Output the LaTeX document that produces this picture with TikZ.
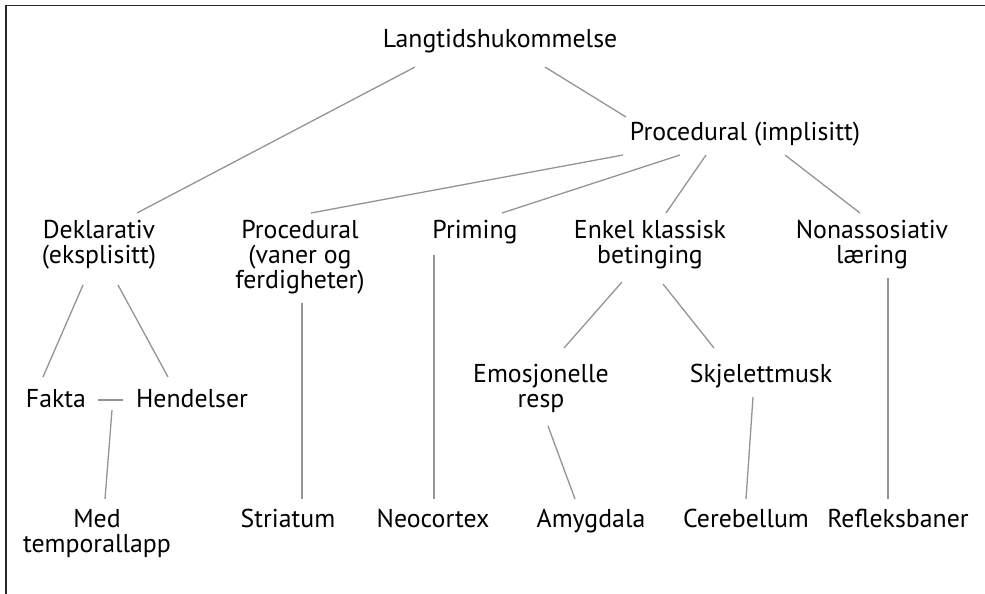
\documentclass[tikz,border=0pt]{standalone}
\usepackage{fontspec}
\setmainfont{PT Sans}
\usetikzlibrary{calc}
\begin{document}
\begin{tikzpicture}[x=1pt,y=-1pt,
  lbl/.style={anchor=base,inner sep=0pt,align=center,font=\fontsize{25.8}{25}\selectfont,text=black},
  conn/.style={draw=black!42,line width=1.3pt}]
\useasboundingbox (0,0) rectangle (985,594);
\draw[line width=1.3pt,black!85] (6,594) -- (6,5.5) -- (985,5.5);
% nodes (anchor base = baseline of the last line)
\node[lbl] (lang) at (500,48) {Langtidshukommelse};
\node[lbl] (proc) at (745,140) {Procedural (implisitt)};
\node[lbl] (dek) at (99,263) {Deklarativ\\(eksplisitt)};
\node[lbl] (pv) at (300,288) {Procedural\\(vaner og\\ferdigheter)};
\node[lbl] (prim) at (475,238) {Priming};
\node[lbl] (enk) at (650,263) {Enkel klassisk\\betinging};
\node[lbl] (non) at (872,263) {Nonassosiativ\\læring};
\node[lbl] (emo) at (541,407) {Emosjonelle\\resp};
\node[lbl] (skj) at (761,382) {Skjelettmusk};
\node[lbl] (fakta) at (56,407) {Fakta};
\node[lbl] (hend) at (192,407) {Hendelser};
\node[lbl] (med) at (97,552) {Med\\temporallapp};
\node[lbl] (stri) at (288,527) {Striatum};
\node[lbl] (neo) at (433,527) {Neocortex};
\node[lbl] (amy) at (591,527) {Amygdala};
\node[lbl] (cer) at (746,527) {Cerebellum};
\node[lbl] (ref) at (898,527) {Refleksbaner};
% connectors
\draw[conn] ($(lang.base)+(-85,19)$) -- ($(dek.base)+(38,-50)$);
\draw[conn] ($(lang.base)+(45,19)$) -- ($(proc.base)+(-119,-23)$);
\draw[conn] ($(proc.base)+(-122,15)$) -- ($(pv.base)+(11,-75)$);
\draw[conn] ($(proc.base)+(-65,15)$) -- ($(prim.base)+(27,-25)$);
\draw[conn] ($(proc.base)+(-39,15)$) -- ($(enk.base)+(16,-50)$);
\draw[conn] ($(proc.base)+(40,15)$) -- ($(non.base)+(-12,-50)$);
\draw[conn] ($(dek.base)+(-16,22)$) -- ($(fakta.base)+(-13,-30)$);
\draw[conn] ($(dek.base)+(19,22)$) -- ($(hend.base)+(-24,-30)$);
\draw[conn] ($(fakta.base)+(42,-7)$) -- ($(hend.base)+(-69,-7)$);
\draw[conn] ($(hend.base)+(-80,3)$) -- ($(med.base)+(8,-53)$);
\draw[conn] ($(pv.base)+(2,15)$) -- ($(stri.base)+(14,-28)$);
\draw[conn] ($(prim.base)+(-41,17)$) -- ($(neo.base)+(1,-28)$);
\draw[conn] ($(enk.base)+(-28,19)$) -- ($(emo.base)+(23,-59)$);
\draw[conn] ($(enk.base)+(13,21)$) -- ($(skj.base)+(-47,-34)$);
\draw[conn] ($(emo.base)+(7,19)$) -- ($(amy.base)+(-16,-28)$);
\draw[conn] ($(skj.base)+(-8,15)$) -- ($(cer.base)+(0,-28)$);
\draw[conn] ($(non.base)+(16,15)$) -- ($(ref.base)+(-10,-28)$);
\end{tikzpicture}
\end{document}
